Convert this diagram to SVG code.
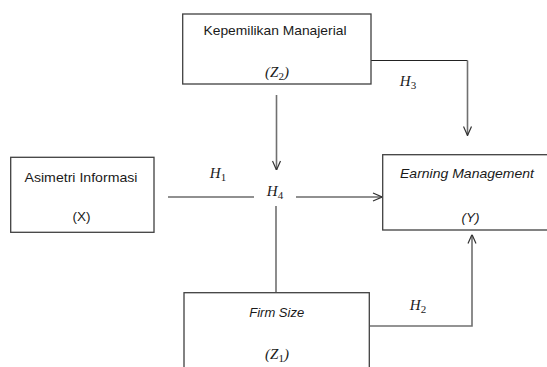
<svg xmlns="http://www.w3.org/2000/svg" width="547" height="367" viewBox="0 0 547 367">
<style>
.box{fill:#fff;stroke:#404040;stroke-width:1.3}
.lbl{font-family:"Liberation Sans",Arial,sans-serif;font-size:13.5px;fill:#1a1a1a;text-anchor:middle}
.it{font-style:italic}
.math{font-family:"Liberation Serif","DejaVu Serif",serif;font-style:italic;font-size:15px;fill:#1a1a1a;text-anchor:middle}
.sub{font-size:11px;font-style:normal}
.ln{fill:none;stroke:#222;stroke-width:1.2}
.lg{fill:none;stroke:#707070;stroke-width:1.6}
</style>
<defs>
<marker id="arr" viewBox="0 0 10 10" refX="10" refY="5" markerWidth="10" markerHeight="10" markerUnits="userSpaceOnUse" orient="auto">
<path d="M1,1 L10,5 L1,9" fill="none" stroke="#333" stroke-width="1.2"/>
</marker>
</defs>
<rect width="547" height="367" fill="#fff"/>
<g id="connectors">
<path class="lg" d="M276.5,95 V170" marker-end="url(#arr)"/>
<path class="ln" d="M371,60.5 H467.5"/>
<path class="lg" d="M467.5,60.5 V135.5" marker-end="url(#arr)"/>
<path class="ln" d="M168,197 H254"/>
<path class="ln" d="M296,197 H382" marker-end="url(#arr)"/>
<path class="lg" d="M276,292 V206"/>
<path class="lg" d="M370,326 H472 V234.5" marker-end="url(#arr)"/>
</g>
<g id="node-kepemilikan">
<rect class="box" x="182.7" y="14" width="188.3" height="70"/>
<text class="lbl" x="275" y="35" textLength="143" lengthAdjust="spacingAndGlyphs">Kepemilikan Manajerial</text>
<text class="math" x="277" y="77">(Z<tspan class="sub" dy="3">2</tspan><tspan dy="-3">)</tspan></text>
</g>
<g id="node-asimetri">
<rect class="box" x="10.7" y="157.3" width="143.3" height="75"/>
<text class="lbl" x="81" y="182" textLength="113" lengthAdjust="spacingAndGlyphs">Asimetri Informasi</text>
<text class="lbl" x="81.5" y="221">(X)</text>
</g>
<g id="node-earning">
<rect class="box" x="382.7" y="154.7" width="170" height="75.3"/>
<text class="lbl it" x="467" y="178" textLength="134" lengthAdjust="spacingAndGlyphs">Earning Management</text>
<text class="lbl it" x="470.5" y="222">(Y)</text>
</g>
<g id="node-firmsize">
<rect class="box" x="184" y="292.7" width="185.3" height="90"/>
<text class="lbl it" x="276.7" y="317" textLength="55" lengthAdjust="spacingAndGlyphs">Firm Size</text>
<text class="math" x="277" y="359">(Z<tspan class="sub" dy="3">1</tspan><tspan dy="-3">)</tspan></text>
</g>
<g id="labels">
<text class="math" x="218" y="178">H<tspan class="sub" dy="3">1</tspan></text>
<text class="math" x="275" y="196">H<tspan class="sub" dy="3">4</tspan></text>
<text class="math" x="408" y="86">H<tspan class="sub" dy="3">3</tspan></text>
<text class="math" x="418" y="310">H<tspan class="sub" dy="3">2</tspan></text>
</g>
</svg>
